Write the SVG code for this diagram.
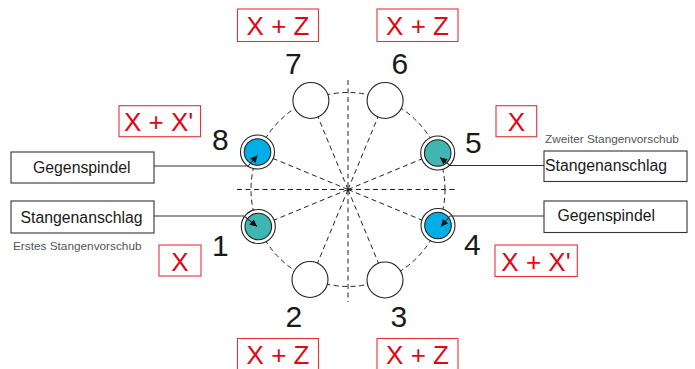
<svg xmlns="http://www.w3.org/2000/svg" width="695" height="369" viewBox="0 0 695 369">
<defs>
<style>
.dash{fill:none;stroke:#222;stroke-width:1;stroke-dasharray:5 3.5}
.pos{fill:#fff;stroke:#222;stroke-width:1.1}
.ring{fill:#fff;stroke:#222;stroke-width:1.1}
.blue{fill:#00aee6;stroke:#222;stroke-width:1.1}
.teal{fill:#3fb6b2;stroke:#222;stroke-width:1.1}
.rbox{fill:#fff;stroke:#e8323a;stroke-width:1.1}
.rtxt{font-family:"Liberation Sans",Arial,sans-serif;font-size:26px;fill:#e30613;text-anchor:middle}
.num{font-family:"Liberation Sans",Arial,sans-serif;font-size:30px;fill:#1a1a1a}
.lbox{fill:#fff;stroke:#333;stroke-width:1.1}
.ltxt{font-family:"Liberation Sans",Arial,sans-serif;font-size:15.8px;fill:#1a1a1a}
.small{font-family:"Liberation Sans",Arial,sans-serif;font-size:11.8px;fill:#555}
.lead{fill:none;stroke:#333;stroke-width:1.1}
</style>
<marker id="arr" viewBox="0 0 10 10" refX="10" refY="5" markerWidth="8" markerHeight="7" orient="auto" markerUnits="userSpaceOnUse">
<path d="M0,0 L10,5 L0,10 z" fill="#111"/>
</marker>
</defs>

<g id="guides">
<circle class="dash" cx="348" cy="189.5" r="97"/>
<line class="dash" x1="237" y1="189.5" x2="458" y2="189.5"/>
<line class="dash" x1="348" y1="80" x2="348" y2="302"/>
<line class="dash" x1="348" y1="189.5" x2="258.4" y2="152.4"/>
<line class="dash" x1="348" y1="189.5" x2="258.4" y2="226.6"/>
<line class="dash" x1="348" y1="189.5" x2="437.6" y2="152.4"/>
<line class="dash" x1="348" y1="189.5" x2="437.6" y2="226.6"/>
<line class="dash" x1="348" y1="189.5" x2="310.9" y2="99.9"/>
<line class="dash" x1="348" y1="189.5" x2="385.1" y2="99.9"/>
<line class="dash" x1="348" y1="189.5" x2="310.9" y2="279.1"/>
<line class="dash" x1="348" y1="189.5" x2="385.1" y2="279.1"/>
</g>

<g id="pos7"><circle class="pos" cx="310.9" cy="100.5" r="18"/><text class="num" x="285" y="74">7</text></g>
<g id="pos6"><circle class="pos" cx="385.1" cy="100.5" r="18"/><text class="num" x="391.5" y="74">6</text></g>
<g id="pos2"><circle class="pos" cx="310" cy="279.5" r="18"/><text class="num" x="285.5" y="326.5">2</text></g>
<g id="pos3"><circle class="pos" cx="385" cy="280" r="18"/><text class="num" x="390.5" y="327">3</text></g>
<g id="pos8"><circle class="ring" cx="257.5" cy="152" r="17"/><circle class="blue" cx="257.5" cy="152" r="13.3"/><text class="num" x="212" y="150">8</text></g>
<g id="pos1"><circle class="ring" cx="258.3" cy="226.5" r="17"/><circle class="teal" cx="258.3" cy="226.5" r="13.3"/><text class="num" x="212" y="256">1</text></g>
<g id="pos5"><circle class="ring" cx="437.7" cy="153" r="17"/><circle class="teal" cx="437.7" cy="153" r="13.3"/><text class="num" x="465" y="153">5</text></g>
<g id="pos4"><circle class="ring" cx="438" cy="225.5" r="17"/><circle class="blue" cx="438" cy="225.5" r="13.3"/><text class="num" x="464" y="255">4</text></g>

<g id="connectors">
<polyline class="lead" points="154,166 248,166 257.5,155.5" marker-end="url(#arr)"/>
<polyline class="lead" points="154,216 244,216 257,226.5" marker-end="url(#arr)"/>
<polyline class="lead" points="544,165.5 450,165.5 440,157.5" marker-end="url(#arr)"/>
<polyline class="lead" points="544,216 450,216 441,226.5" marker-end="url(#arr)"/>
</g>

<g id="label-gegenspindel-left"><rect class="lbox" x="11" y="152" width="143" height="31"/><text class="ltxt" x="33" y="172.5">Gegenspindel</text></g>
<g id="label-stangenanschlag-left"><rect class="lbox" x="11" y="201" width="143" height="32"/><text class="ltxt" x="20.5" y="222.5">Stangenanschlag</text></g>
<g id="label-erstes"><text class="small" x="13" y="250">Erstes Stangenvorschub</text></g>
<g id="label-stangenanschlag-right"><rect class="lbox" x="544" y="151" width="143" height="30.5"/><text class="ltxt" x="545" y="171">Stangenanschlag</text></g>
<g id="label-gegenspindel-right"><rect class="lbox" x="544" y="201" width="143" height="31.5"/><text class="ltxt" x="557.5" y="221">Gegenspindel</text></g>
<g id="label-zweiter"><text class="small" x="545" y="142.5">Zweiter Stangenvorschub</text></g>

<g id="axis-7"><rect class="rbox" x="237.5" y="9" width="81" height="32.5"/><text class="rtxt" x="278" y="35">X + Z</text></g>
<g id="axis-6"><rect class="rbox" x="377" y="9" width="81" height="32.5"/><text class="rtxt" x="417.5" y="35">X + Z</text></g>
<g id="axis-2"><rect class="rbox" x="237.5" y="338.5" width="81" height="33"/><text class="rtxt" x="278" y="364">X + Z</text></g>
<g id="axis-3"><rect class="rbox" x="377" y="338.5" width="81" height="33"/><text class="rtxt" x="417.5" y="364">X + Z</text></g>
<g id="axis-8"><rect class="rbox" x="119" y="105.7" width="81.5" height="31"/><text class="rtxt" x="158.7" y="130.7">X + X'</text></g>
<g id="axis-1"><rect class="rbox" x="159" y="245" width="42" height="31"/><text class="rtxt" x="180" y="270.7">X</text></g>
<g id="axis-5"><rect class="rbox" x="496" y="105.7" width="40.7" height="31"/><text class="rtxt" x="516.3" y="131">X</text></g>
<g id="axis-4"><rect class="rbox" x="495" y="245" width="82.3" height="31.5"/><text class="rtxt" x="536" y="270.7">X + X'</text></g>
</svg>
